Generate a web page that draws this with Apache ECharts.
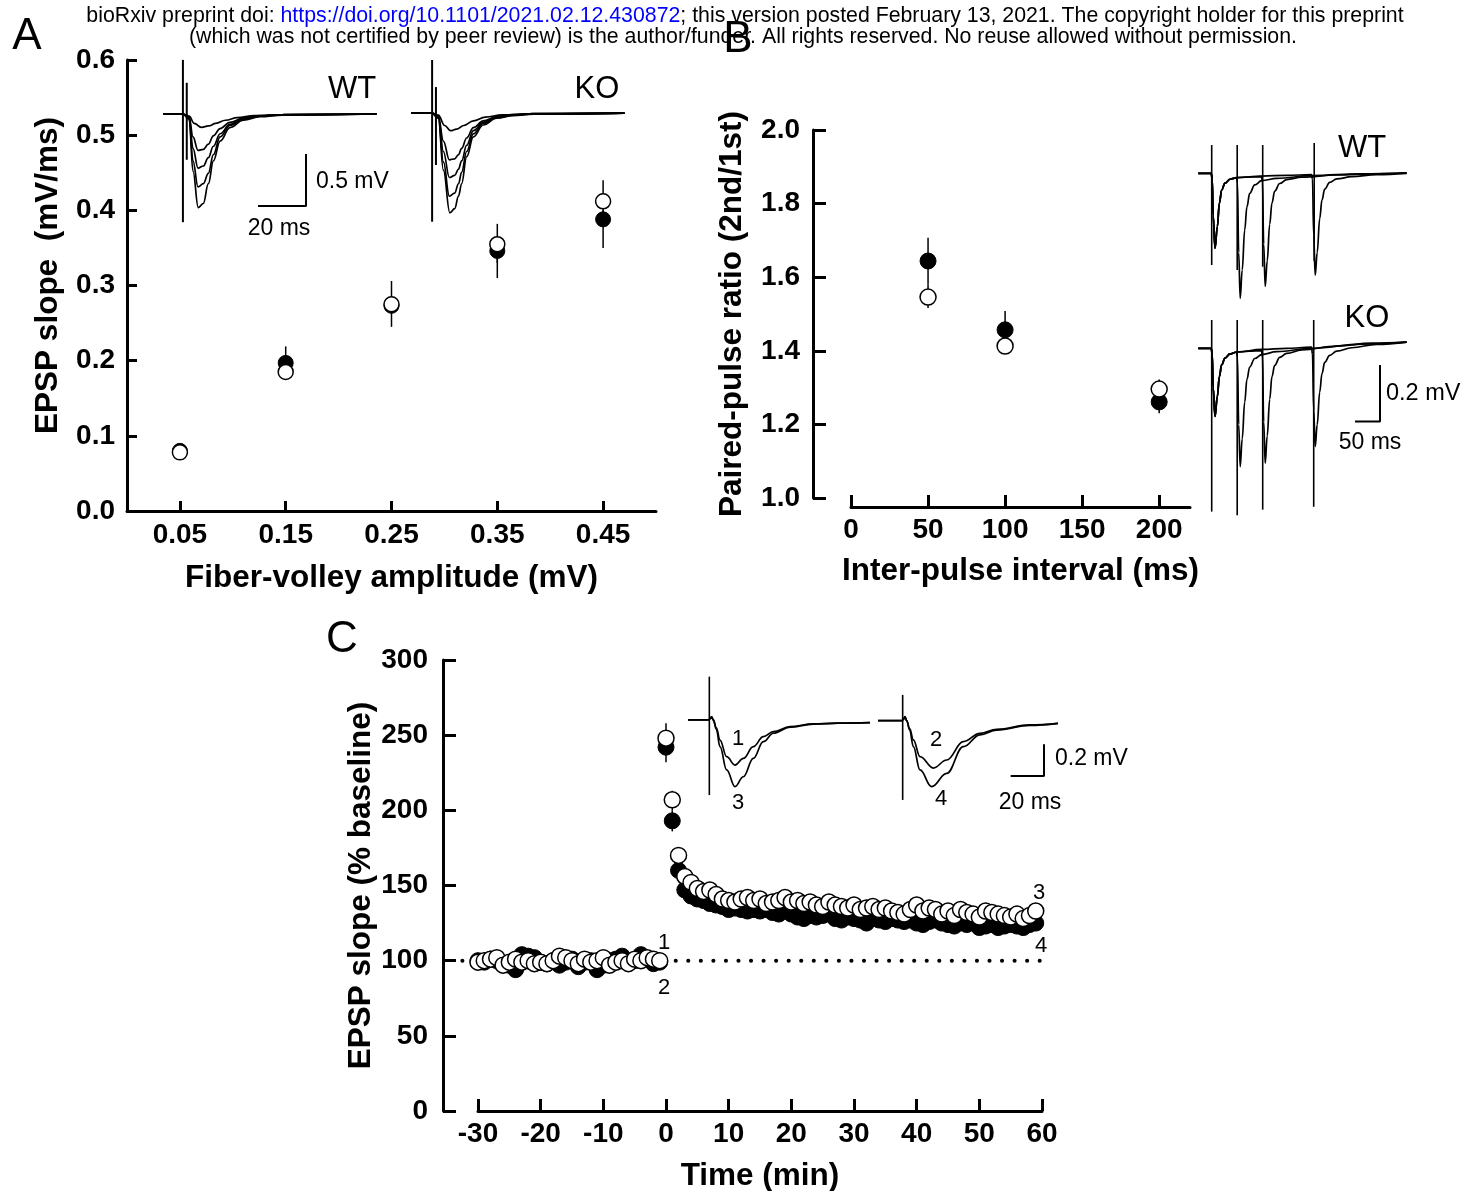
<!DOCTYPE html>
<html><head><meta charset="utf-8">
<script src="https://cdn.jsdelivr.net/npm/echarts@6/dist/echarts.min.js"></script>
<style>html,body{margin:0;padding:0;background:#fff}#c{width:1477px;height:1191px}</style>
</head><body><div id="c"></div>
<script>
// ================= DATA =================
// Panel A: EPSP slope vs fiber-volley amplitude
const aX = [0.05, 0.15, 0.25, 0.35, 0.45];
const aFilled = [0.080, 0.197, 0.273, 0.346, 0.388];
const aOpen = [0.078, 0.185, 0.275, 0.355, 0.412];
const aErrFilled = [[0.15, 0.176, 0.219], [0.35, 0.31, 0.36], [0.45, 0.35, 0.40]];
const aErrOpen = [[0.25, 0.245, 0.306], [0.35, 0.33, 0.382], [0.45, 0.39, 0.44]];
const aXTicks = [0.05, 0.15, 0.25, 0.35, 0.45];

// Panel A inset traces (time ms, mV)
const aWtTraces = [
  [[0,0],[8.3,0],[10.9,-0.02],[13,-0.09],[16,-0.128],[19,-0.115],[22,-0.09],[26,-0.06],[31,-0.035],[38,-0.015],[50,-0.005],[89,0]],
  [[0,0],[8.3,0],[10.9,-0.03],[12.5,-0.22],[14.6,-0.35],[16.8,-0.34],[18.9,-0.29],[21,-0.21],[23.8,-0.14],[27.9,-0.08],[33.5,-0.04],[40.4,-0.015],[50,-0.005],[89,0]],
  [[0,0],[8.3,0],[10.9,-0.04],[12.5,-0.33],[14.6,-0.52],[16.8,-0.5],[18.9,-0.42],[21,-0.31],[23.8,-0.19],[27.9,-0.1],[33.5,-0.045],[40.4,-0.02],[50,-0.007],[89,0]],
  [[0,0],[8.3,0],[10.9,-0.05],[12.5,-0.45],[14.6,-0.70],[16.8,-0.67],[18.9,-0.57],[21,-0.39],[23.8,-0.22],[27.9,-0.11],[33.5,-0.05],[40.4,-0.02],[50,-0.008],[89,0]],
  [[0,0],[8.3,0],[10.9,-0.05],[12.5,-0.55],[14.7,-0.9],[16.8,-0.86],[18.9,-0.67],[21,-0.45],[23.8,-0.26],[27.9,-0.13],[33.5,-0.06],[40.4,-0.026],[50,-0.01],[89,0]]
];
const aKoTraces = [
  [[0,0],[8.7,0],[11.4,-0.02],[14,-0.12],[16.5,-0.17],[19,-0.155],[22,-0.12],[26,-0.075],[31,-0.04],[38,-0.018],[50,-0.006],[89,0]],
  [[0,0],[8.7,0],[11.4,-0.03],[13.5,-0.27],[16,-0.45],[18.2,-0.44],[19.8,-0.4],[21.1,-0.34],[23.2,-0.24],[26,-0.14],[30.1,-0.075],[35.7,-0.035],[42.6,-0.015],[51,-0.005],[89,0]],
  [[0,0],[8.7,0],[11.4,-0.04],[13.5,-0.37],[16,-0.62],[18.2,-0.6],[19.8,-0.54],[21.1,-0.46],[23.2,-0.31],[26,-0.17],[30.1,-0.09],[35.7,-0.04],[42.6,-0.018],[51,-0.007],[89,0]],
  [[0,0],[8.7,0],[11.4,-0.05],[13.5,-0.47],[16,-0.80],[18.2,-0.77],[19.8,-0.68],[21.1,-0.57],[23.2,-0.37],[26,-0.2],[30.1,-0.1],[35.7,-0.045],[42.6,-0.02],[51,-0.008],[89,0]],
  [[0,0],[8.7,0],[11.4,-0.05],[13.5,-0.55],[16.2,-0.96],[18.2,-0.92],[19.8,-0.8],[21.1,-0.68],[23.2,-0.42],[26,-0.23],[30.1,-0.115],[35.7,-0.05],[42.6,-0.025],[51,-0.01],[89,0]]
];
const aWtArtifacts = [[8.3, -1.04, 0.52], [9.9, -0.44, 0.30]];
const aKoArtifacts = [[8.8, -1.045, 0.51], [10.4, -0.50, 0.25]];
const aScaleBar = [[39.6, -0.885], [59.6, -0.885], [59.6, -0.385]];

// Panel B: paired-pulse ratio
const bX = [50, 100, 200];
const bFilled = [1.644, 1.457, 1.261];
const bOpen = [1.546, 1.413, 1.296];
const bErrFilled = [[50, 1.58, 1.707], [100, 1.41, 1.508], [200, 1.23, 1.29]];
const bErrOpen = [[50, 1.516, 1.58], [200, 1.28, 1.322]];
const bXTicks = [0, 50, 100, 150, 200];

// Panel B inset traces (ms from first pulse, mV)
const bWtTraces = [
  [[-27,0],[-1,0],[1,-0.02],[3,-0.15],[6.6,-0.265],[11.3,-0.189],[15.3,-0.106],[20,-0.059],[26.6,-0.035],[36.6,-0.021],[49.5,-0.016],[51.5,-0.03],[54,-0.28],[57,-0.442],[61,-0.342],[66,-0.2],[70.5,-0.118],[76,-0.071],[86,-0.041],[100,-0.026],[130,-0.018],[200,-0.008],[300,-0.002],[390,0.002]],
  [[-27,0],[-1,0],[1,-0.02],[3,-0.15],[6.6,-0.265],[11.3,-0.189],[15.3,-0.106],[20,-0.059],[26.6,-0.035],[36.6,-0.021],[50,-0.015],[75,-0.013],[99.5,-0.012],[101.5,-0.03],[104,-0.25],[107,-0.40],[111,-0.31],[116,-0.18],[120.5,-0.105],[126,-0.063],[136,-0.036],[150,-0.022],[180,-0.014],[250,-0.006],[320,-0.002],[390,0.002]],
  [[-27,0],[-1,0],[1,-0.02],[3,-0.15],[6.6,-0.265],[11.3,-0.189],[15.3,-0.106],[20,-0.059],[26.6,-0.035],[36.6,-0.021],[50,-0.015],[100,-0.01],[150,-0.007],[199.5,-0.005],[201.5,-0.02],[204,-0.22],[207,-0.36],[211,-0.28],[216,-0.16],[220.5,-0.095],[226,-0.056],[236,-0.032],[250,-0.02],[280,-0.012],[330,-0.005],[390,0]]
];
const bKoTraces = [
  [[-27,0],[-1,0],[1,-0.02],[3,-0.14],[6.6,-0.241],[11.3,-0.17],[15.3,-0.1],[20,-0.058],[26.6,-0.035],[36.6,-0.02],[49.5,-0.014],[51.5,-0.03],[54,-0.27],[57,-0.418],[61,-0.32],[66,-0.19],[70.5,-0.11],[76,-0.066],[86,-0.036],[100,-0.022],[130,-0.012],[200,0],[300,0.015],[390,0.022]],
  [[-27,0],[-1,0],[1,-0.02],[3,-0.14],[6.6,-0.241],[11.3,-0.17],[15.3,-0.1],[20,-0.058],[26.6,-0.035],[36.6,-0.02],[50,-0.013],[75,-0.01],[99.5,-0.008],[101.5,-0.03],[104,-0.26],[107,-0.406],[111,-0.31],[116,-0.18],[120.5,-0.1],[126,-0.06],[136,-0.032],[150,-0.018],[180,-0.006],[250,0.008],[320,0.018],[390,0.022]],
  [[-27,0],[-1,0],[1,-0.02],[3,-0.14],[6.6,-0.241],[11.3,-0.17],[15.3,-0.1],[20,-0.058],[26.6,-0.035],[36.6,-0.02],[50,-0.013],[100,-0.004],[150,0],[199.5,0.004],[201.5,-0.02],[204,-0.22],[207,-0.347],[211,-0.27],[216,-0.155],[220.5,-0.09],[226,-0.05],[236,-0.025],[250,-0.01],[280,0.002],[330,0.014],[390,0.022]]
];
const bWtArtifacts = [[0, -0.324, 0.10], [51, -0.342, 0.10], [102, -0.33, 0.10], [205, -0.31, 0.107]];
const bKoArtifacts = [[0, -0.577, 0.10], [51, -0.59, 0.10], [102, -0.57, 0.10], [204, -0.56, 0.10]];
const bScaleBar = [[286.6, -0.259], [336.6, -0.259], [336.6, -0.059]];

// Panel C: LTP time course (% baseline)
const cTime = [-30,-29,-28,-27,-26,-25,-24,-23,-22,-21,-20,-19,-18,-17,-16,-15,-14,-13,-12,-11,-10,-9,-8,-7,-6,-5,-4,-3,-2,-1,
  0,1,2,3,4,5,6,7,8,9,10,11,12,13,14,15,16,17,18,19,20,21,22,23,24,25,26,27,28,29,
  30,31,32,33,34,35,36,37,38,39,40,41,42,43,44,45,46,47,48,49,50,51,52,53,54,55,56,57,58,59];
const cOpen = [99,100,101,102,97,99,101,99,100,98,99,98,100,103,102,100,98,101,99,100,102,97,99,100,98,101,100,102,101,100,
  248,207,170,156,152,148,146,147,144,141,140,139,141,142,140,141,138,139,140,142,139,140,138,139,137,136,139,137,136,135,
  137,134,135,136,134,135,133,132,131,134,137,133,135,134,131,133,130,134,132,131,129,133,132,131,130,129,131,128,130,133];
const cFilled = [100,99,101,100,98,97,94,104,103,102,99,98,100,97,99,101,96,99,100,94,97,100,101,103,99,100,104,101,98,99,
  242,193,160,147,143,141,140,138,137,136,134,135,134,133,134,133,134,132,131,133,131,129,128,130,129,130,131,128,127,129,
  128,127,125,128,127,126,128,127,126,127,125,124,126,127,125,124,123,125,124,125,122,123,124,122,123,124,123,122,124,125];
const cErrOpen = [[0, 240, 258], [1, 200, 213]];
const cErrFilled = [[0, 232, 250], [1, 186, 200]];
const cBaselineLine = [[-32.5, 100], [60, 100]];

// Panel C inset traces (ms, mV)
const cLeftTraces = [
  [[0,0],[12.4,0],[13.4,0.01],[14.2,0.02],[15.2,0],[17,-0.05],[19.2,-0.127],[23.2,-0.232],[28.2,-0.285],[33.2,-0.243],[39.2,-0.169],[45.2,-0.105],[51.2,-0.074],[61.2,-0.042],[75.2,-0.025],[90,-0.02],[109.2,-0.017]],
  [[0,0],[12.4,0],[13.4,0.01],[14.2,0.02],[15.2,0],[17,-0.06],[19.2,-0.169],[23.2,-0.316],[28.2,-0.422],[33.2,-0.359],[39.2,-0.243],[45.2,-0.137],[51.2,-0.084],[61.2,-0.046],[75.2,-0.026],[90,-0.02],[109.2,-0.017]]
];
const cRightTraces = [
  [[0,0],[14.4,0],[15.4,0.01],[16.2,0.025],[17.2,0],[19,-0.05],[21.2,-0.122],[25.2,-0.228],[33.2,-0.30],[41.2,-0.249],[51.2,-0.133],[61.2,-0.08],[71.2,-0.055],[91.2,-0.027],[108,-0.017]],
  [[0,0],[14.4,0],[15.4,0.01],[16.2,0.025],[17.2,0],[19,-0.06],[21.2,-0.164],[25.2,-0.312],[32.2,-0.418],[41.2,-0.334],[51.2,-0.165],[61.2,-0.09],[71.2,-0.06],[91.2,-0.03],[108,-0.017]]
];
const cLeftArtifacts = [[12.8, -0.475, 0.274]];
const cRightArtifacts = [[14.8, -0.502, 0.163]];
const cScaleBar = [[79.6, -0.35], [99.6, -0.35], [99.6, -0.15]];

// ================= CHART =================
const F = '"Liberation Sans", Arial, Helvetica, sans-serif';
const chart = echarts.init(document.getElementById('c'), null, {renderer: 'canvas'});

const tickLbl = (margin, fmt, extra) => Object.assign({color: '#000', fontSize: 28, fontWeight: 'bold', fontFamily: F, margin: margin, formatter: fmt}, extra || {});
const nameStyle = (extra) => Object.assign({color: '#000', fontSize: 31.5, fontWeight: 'bold', fontFamily: F}, extra || {});
const axLine = {show: true, onZero: false, lineStyle: {color: '#000', width: 3}};
const tick = (len, extra) => Object.assign({show: true, inside: true, length: len, lineStyle: {color: '#000', width: 3}}, extra || {});
const hidden = (min, max, gi) => ({gridIndex: gi, type: 'value', min: min, max: max, show: false, splitLine: {show: false}});

const G = (l, t, w, h) => ({left: l, top: t, width: w, height: h, containLabel: false, outerBoundsMode: 'none'});
const grids = [
  G(127, 60, 529, 451),   // 0 A main
  G(163, 60, 215, 162),   // 1 A WT inset
  G(411, 60, 214, 162),   // 2 A KO inset
  G(851, 130, 339, 368),  // 3 B main
  G(1198, 140, 209, 160), // 4 B WT inset
  G(1198, 315, 209, 200), // 5 B KO inset
  G(478, 660, 564, 451),  // 6 C main
  G(688, 676, 182, 124),  // 7 C left inset
  G(878, 690, 180, 115)   // 8 C right inset
];

const xAxes = [
  {gridIndex: 0, type: 'value', min: 0, max: 0.5, axisLine: axLine, splitLine: {show: false},
   axisTick: tick(10, {customValues: aXTicks}), axisLabel: tickLbl(10, v => v.toFixed(2), {customValues: aXTicks}),
   name: 'Fiber-volley amplitude (mV)', nameLocation: 'middle', nameGap: 51, nameTextStyle: nameStyle()},
  hidden(0, 89.6, 1),
  hidden(0, 89.2, 2),
  {gridIndex: 3, type: 'value', min: 0, max: 220, offset: 9, axisLine: axLine, splitLine: {show: false},
   axisTick: tick(12, {customValues: bXTicks}), axisLabel: tickLbl(9, v => String(v), {customValues: bXTicks}),
   name: 'Inter-pulse interval (ms)', nameLocation: 'middle', nameGap: 48, nameTextStyle: nameStyle()},
  hidden(-27.4, 390.6, 4),
  hidden(-27.4, 390.6, 5),
  {gridIndex: 6, type: 'value', min: -30, max: 60, interval: 10, axisLine: axLine, splitLine: {show: false},
   axisTick: tick(12), axisLabel: tickLbl(9, v => String(v)),
   name: 'Time (min)', nameLocation: 'middle', nameGap: 49, nameTextStyle: nameStyle()},
  hidden(0, 109.2, 7),
  hidden(0, 108, 8)
];
const yAxes = [
  {gridIndex: 0, type: 'value', min: 0, max: 0.6, interval: 0.1, axisLine: axLine, splitLine: {show: false},
   axisTick: tick(10), axisLabel: tickLbl(12, v => v.toFixed(1)),
   name: 'EPSP slope  (mV/ms)', nameLocation: 'middle', nameGap: 63, nameTextStyle: nameStyle({padding: [0, 0, 0, 20]})},
  hidden(-1.038, 0.519, 1),
  hidden(-1.048, 0.51, 2),
  {gridIndex: 3, type: 'value', min: 1, max: 2, interval: 0.2, offset: 38, axisLine: axLine, splitLine: {show: false},
   axisTick: tick(13), axisLabel: tickLbl(13, v => v.toFixed(1)),
   name: 'Paired-pulse ratio (2nd/1st)', nameLocation: 'middle', nameGap: 65, nameTextStyle: nameStyle()},
  hidden(-0.4477, 0.1177, 4),
  hidden(-0.589, 0.1177, 5),
  {gridIndex: 6, type: 'value', min: 0, max: 300, interval: 50, offset: 35, axisLine: axLine, splitLine: {show: false},
   axisTick: tick(13), axisLabel: tickLbl(15, v => String(v)),
   name: 'EPSP slope (% baseline)', nameLocation: 'middle', nameGap: 65, nameTextStyle: nameStyle()},
  hidden(-0.506, 0.278, 7),
  hidden(-0.534, 0.194, 8)
];

const vseg = (ai, data, lw) => ({
  type: 'custom', xAxisIndex: ai, yAxisIndex: ai, data: data, silent: true, z: 1,
  encode: {x: 0, y: [1, 2]},
  renderItem: (p, api) => {
    const a = api.coord([api.value(0), api.value(1)]);
    const b = api.coord([api.value(0), api.value(2)]);
    return {type: 'line', shape: {x1: a[0], y1: a[1], x2: b[0], y2: b[1]}, style: {stroke: '#000', lineWidth: lw}};
  }
});
const pts = (xs, ys) => xs.map((x, i) => [x, ys[i]]);
const scat = (ai, data, filled, size) => ({
  type: 'scatter', xAxisIndex: ai, yAxisIndex: ai, data: data, symbol: 'circle', symbolSize: size, silent: true,
  z: filled ? 2 : 3,
  itemStyle: filled ? {color: '#000', borderColor: '#000', borderWidth: 1, opacity: 1}
                    : {color: '#fff', borderColor: '#000', borderWidth: 1.5, opacity: 1}
});
const trace = (ai, data, lw) => ({
  type: 'line', xAxisIndex: ai, yAxisIndex: ai, data: data, symbol: 'none', showSymbol: false, silent: true,
  smooth: 0.4, smoothMonotone: 'x', clip: false, z: 2, lineStyle: {color: '#000', width: lw || 1.7}
});
const bar = (ai, data) => ({
  type: 'line', xAxisIndex: ai, yAxisIndex: ai, data: data, symbol: 'none', silent: true, clip: false, z: 2,
  lineStyle: {color: '#000', width: 2}
});

const series = [];
// A
series.push(vseg(0, aErrFilled, 1.5), vseg(0, aErrOpen, 1.5));
series.push(scat(0, pts(aX, aFilled), true, 15), scat(0, pts(aX, aOpen), false, 15));
aWtTraces.forEach(t => series.push(trace(1, t)));
aKoTraces.forEach(t => series.push(trace(2, t)));
series.push(vseg(1, aWtArtifacts, 2), vseg(2, aKoArtifacts, 2));
series.push(bar(1, aScaleBar));
// B
series.push(vseg(3, bErrFilled, 1.5), vseg(3, bErrOpen, 1.5));
series.push(scat(3, pts(bX, bFilled), true, 16), scat(3, pts(bX, bOpen), false, 16));
bWtTraces.forEach(t => series.push(trace(4, t)));
bKoTraces.forEach(t => series.push(trace(5, t)));
series.push(vseg(4, bWtArtifacts, 1.6), vseg(5, bKoArtifacts, 1.6));
series.push(bar(5, bScaleBar));
// C: dotted 100% baseline (custom series so it may extend left of the first tick)
series.push({type: 'custom', xAxisIndex: 6, yAxisIndex: 6, data: [0], silent: true, z: 0, clip: false,
  renderItem: (p, api) => {
    const a = api.coord(cBaselineLine[0]);
    const b = api.coord(cBaselineLine[1]);
    return {type: 'line', shape: {x1: a[0], y1: a[1], x2: b[0], y2: b[1]},
            style: {stroke: '#000', lineWidth: 4, lineDash: [0.1, 12.45], lineCap: 'round'}};
  }});
series.push(vseg(6, cErrFilled, 1.5), vseg(6, cErrOpen, 1.5));
series.push(scat(6, pts(cTime, cFilled), true, 16), scat(6, pts(cTime, cOpen), false, 16));
cLeftTraces.forEach(t => series.push(trace(7, t)));
cRightTraces.forEach(t => series.push(trace(8, t)));
series.push(vseg(7, cLeftArtifacts, 1.6), vseg(8, cRightArtifacts, 1.6));
series.push(bar(8, cScaleBar));

const txt = (x, y, text, size, align, weight) => ({
  type: 'text', x: x, y: y, silent: true, z: 10,
  style: {text: text, fill: '#000', font: (weight || 'normal') + ' ' + size + 'px ' + F,
          textAlign: align || 'center', textVerticalAlign: 'middle'}
});

const graphic = [
  {type: 'text', x: 745, y: 16, silent: true, z: 10, style: {
    text: '{n|bioRxiv preprint doi: }{l|https://doi.org/10.1101/2021.02.12.430872}{n|; this version posted February 13, 2021. The copyright holder for this preprint}',
    textAlign: 'center', textVerticalAlign: 'middle',
    rich: {n: {fill: '#000', fontSize: 21.3, fontFamily: F}, l: {fill: '#0000ff', fontSize: 21.3, fontFamily: F}}}},
  txt(743, 37, '(which was not certified by peer review) is the author/funder. All rights reserved. No reuse allowed without permission.', 21.3),
  txt(27, 37, 'A', 44), txt(738, 40, 'B', 44), txt(342, 640, 'C', 44),
  txt(352, 89, 'WT', 31), txt(597, 89, 'KO', 31),
  txt(316, 182, '0.5 mV', 23, 'left'), txt(279, 229, '20 ms', 23),
  txt(1362, 148, 'WT', 31), txt(1367, 318, 'KO', 31),
  txt(1386, 394, '0.2 mV', 23.5, 'left'), txt(1370, 443, '50 ms', 23),
  txt(738, 739, '1', 22), txt(738, 803, '3', 22), txt(936, 740, '2', 22), txt(941, 799, '4', 22),
  txt(1055, 759, '0.2 mV', 23, 'left'), txt(1030, 803, '20 ms', 23),
  txt(664, 943, '1', 22), txt(664, 988, '2', 22), txt(1039, 893, '3', 22), txt(1041, 946, '4', 22)
];

chart.setOption({
  animation: false,
  backgroundColor: '#fff',
  grid: grids,
  xAxis: xAxes,
  yAxis: yAxes,
  series: series,
  graphic: graphic
});
</script></body></html>
